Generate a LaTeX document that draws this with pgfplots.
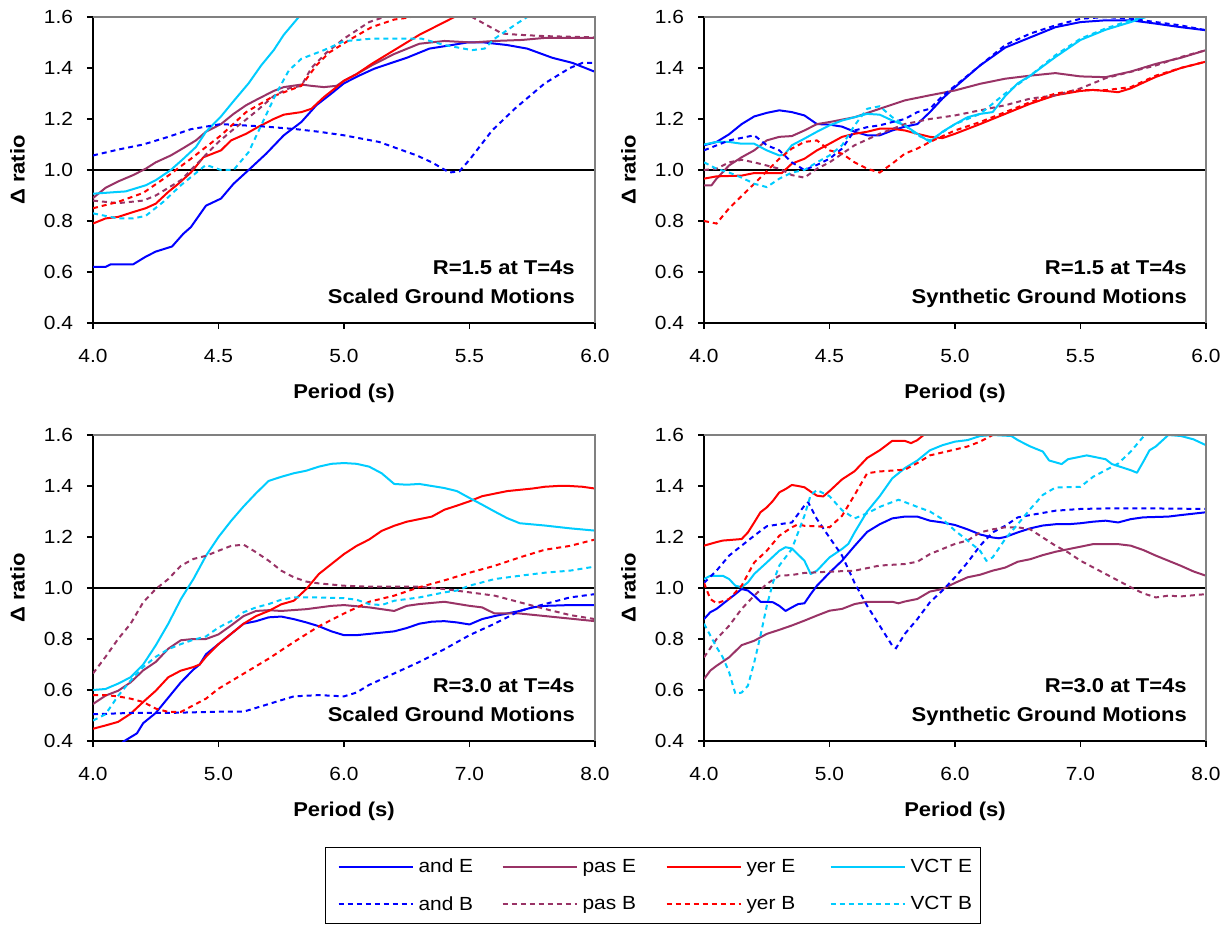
\documentclass[border=0pt]{standalone}
\usepackage{fontspec}
\setmainfont[FakeStretch=1.1]{Liberation Sans}
\usepackage{pgfplots}
\pgfplotsset{compat=1.18}
\definecolor{cAnd}{RGB}{0,0,255}
\definecolor{cPas}{RGB}{153,51,102}
\definecolor{cYer}{RGB}{255,0,0}
\definecolor{cVct}{RGB}{0,204,255}
\tikzset{
  sol/.style={line width=2pt, line join=round},
  dsh/.style={line width=2pt, dash pattern=on 5pt off 4pt},
  ann/.style={anchor=base east, inner sep=0pt, font=\fontsize{20}{24}\selectfont\bfseries},
}
\pgfplotsset{
  panel/.style={
    scale only axis, width=502pt, height=306pt,
    anchor=south west,
    xmin=4, ymin=0.4, ymax=1.6,
    axis x line*=bottom, axis y line*=left,
    axis line style={black, line width=1.3pt},
    tick align=outside, major tick length=6pt,
    tick style={black, line width=1.1pt},
    ytick={0.4,0.6,0.8,1.0,1.2,1.4,1.6},
    /pgf/number format/assume math mode=true,
    /pgf/number format/fixed, /pgf/number format/fixed zerofill, /pgf/number format/precision=1,
    ticklabel style={font=\fontsize{19}{23}\selectfont},
    yticklabel style={xshift=-10.5pt},
    xticklabel style={yshift=-17pt},
    every axis y label/.style={at={(axis description cs:0,0.5)}, xshift=-75.5pt, rotate=90, anchor=center, font=\fontsize{20}{24}\selectfont\bfseries},
    every axis x label/.style={at={(axis description cs:0.5,0)}, anchor=center, yshift=-70pt, font=\fontsize{20}{24}\selectfont\bfseries},
    ylabel={Δ ratio}, xlabel={Period (s)},
    after end axis/.code={\draw[gray, line width=1.1pt] (rel axis cs:0,1) -- (rel axis cs:1,1) -- (rel axis cs:1,0);},
  },
}
\begin{document}
\begin{tikzpicture}
\useasboundingbox (0pt,0pt) rectangle (1231pt,926pt);
% ---------------- top left
\begin{axis}[panel, at={(93pt,603pt)}, xmax=6, xtick={4,4.5,5,5.5,6}]
\addplot[black, line width=1.5pt, forget plot] coordinates {(4,1) (6,1)};
\addplot[sol, cAnd] coordinates {(4.00,0.62) (4.05,0.62) (4.07,0.63) (4.16,0.63) (4.21,0.66) (4.25,0.68) (4.315,0.70) (4.36,0.75) (4.39,0.776) (4.45,0.86) (4.51,0.888) (4.56,0.946) (4.62,1.0) (4.69,1.064) (4.76,1.136) (4.83,1.188) (4.89,1.254) (4.95,1.30) (5.00,1.34) (5.06,1.37) (5.12,1.397) (5.18,1.417) (5.25,1.44) (5.34,1.476) (5.43,1.49) (5.49,1.50) (5.56,1.50) (5.65,1.49) (5.73,1.476) (5.83,1.44) (5.91,1.42) (6.00,1.385)};
\addplot[sol, cPas] coordinates {(4.0,0.89) (4.05,0.93) (4.10,0.955) (4.16,0.98) (4.21,1.005) (4.25,1.03) (4.31,1.057) (4.36,1.086) (4.41,1.116) (4.45,1.15) (4.51,1.18) (4.56,1.22) (4.61,1.254) (4.66,1.28) (4.72,1.31) (4.76,1.325) (4.83,1.335) (4.87,1.33) (4.92,1.325) (4.97,1.33) (5.0,1.35) (5.05,1.376) (5.11,1.41) (5.20,1.455) (5.30,1.495) (5.40,1.506) (5.51,1.50) (5.60,1.506) (5.71,1.51) (5.80,1.518) (6.0,1.518)};
\addplot[sol, cYer] coordinates {(4.0,0.79) (4.05,0.81) (4.10,0.816) (4.16,0.835) (4.21,0.85) (4.25,0.868) (4.30,0.914) (4.34,0.946) (4.39,0.99) (4.44,1.05) (4.51,1.077) (4.55,1.116) (4.61,1.142) (4.66,1.17) (4.72,1.20) (4.76,1.217) (4.83,1.227) (4.87,1.24) (4.92,1.286) (4.97,1.325) (5.0,1.35) (5.05,1.376) (5.11,1.416) (5.15,1.44) (5.20,1.47) (5.30,1.53) (5.40,1.58) (5.44,1.60) (5.55,1.65) (6.0,1.75)};
\addplot[sol, cVct] coordinates {(4.0,0.907) (4.1,0.914) (4.13,0.916) (4.21,0.94) (4.25,0.96) (4.31,1.0) (4.36,1.044) (4.41,1.09) (4.45,1.15) (4.51,1.21) (4.56,1.27) (4.62,1.34) (4.67,1.41) (4.72,1.47) (4.76,1.53) (4.82,1.60) (4.9,1.72)};
\addplot[dsh, cAnd] coordinates {(4.0,1.057) (4.1,1.08) (4.2,1.10) (4.3,1.13) (4.39,1.16) (4.51,1.18) (4.69,1.17) (4.81,1.16) (4.90,1.15) (5.0,1.136) (5.14,1.11) (5.29,1.057) (5.35,1.03) (5.42,0.99) (5.46,0.995) (5.5,1.04) (5.59,1.155) (5.68,1.24) (5.80,1.34) (5.90,1.40) (5.95,1.42) (6.0,1.42)};
\addplot[dsh, cPas] coordinates {(4.0,0.88) (4.1,0.87) (4.2,0.88) (4.25,0.90) (4.3,0.93) (4.35,0.96) (4.4,1.01) (4.45,1.06) (4.5,1.11) (4.56,1.16) (4.6,1.19) (4.65,1.23) (4.72,1.29) (4.78,1.32) (4.83,1.33) (4.87,1.40) (4.93,1.46) (5.0,1.515) (5.1,1.58) (5.16,1.60) (5.3,1.65) (5.45,1.62) (5.51,1.60) (5.63,1.535) (5.7,1.53) (5.8,1.525) (6.0,1.52)};
\addplot[dsh, cYer] coordinates {(4.0,0.85) (4.1,0.875) (4.2,0.91) (4.31,0.985) (4.39,1.044) (4.51,1.136) (4.61,1.227) (4.72,1.29) (4.83,1.33) (4.89,1.41) (4.94,1.46) (5.03,1.515) (5.11,1.56) (5.2,1.59) (5.26,1.598) (5.35,1.63) (6.0,1.7)};
\addplot[dsh, cVct] coordinates {(4.0,0.83) (4.10,0.81) (4.16,0.81) (4.21,0.82) (4.28,0.875) (4.35,0.94) (4.45,1.02) (4.51,1.0) (4.56,1.0) (4.62,1.07) (4.67,1.175) (4.73,1.30) (4.78,1.39) (4.83,1.436) (4.92,1.47) (5.0,1.505) (5.11,1.515) (5.20,1.515) (5.31,1.515) (5.40,1.49) (5.51,1.47) (5.56,1.476) (5.60,1.515) (5.69,1.575) (5.73,1.60) (5.8,1.66)};
\node[ann] at (rel axis cs:0.960,0.160) {R=1.5 at T=4s};
\node[ann] at (rel axis cs:0.960,0.065) {Scaled Ground Motions};
\end{axis}
% ---------------- top right
\begin{axis}[panel, at={(704pt,603pt)}, xmax=6, xtick={4,4.5,5,5.5,6}]
\addplot[black, line width=1.5pt, forget plot] coordinates {(4,1) (6,1)};
\addplot[sol, cAnd] coordinates {(4.0,1.097) (4.05,1.11) (4.1,1.14) (4.15,1.18) (4.2,1.21) (4.25,1.224) (4.3,1.234) (4.35,1.227) (4.4,1.214) (4.45,1.18) (4.5,1.178) (4.55,1.17) (4.6,1.15) (4.65,1.136) (4.7,1.136) (4.75,1.155) (4.8,1.17) (4.85,1.18) (4.9,1.227) (4.95,1.28) (5.0,1.325) (5.1,1.41) (5.2,1.48) (5.3,1.52) (5.4,1.56) (5.5,1.58) (5.6,1.587) (5.7,1.587) (5.8,1.574) (5.9,1.56) (6.0,1.548)};
\addplot[sol, cPas] coordinates {(4.0,0.94) (4.03,0.94) (4.05,0.966) (4.1,1.018) (4.15,1.05) (4.2,1.077) (4.25,1.116) (4.3,1.13) (4.35,1.133) (4.4,1.155) (4.45,1.18) (4.5,1.188) (4.6,1.207) (4.7,1.24) (4.8,1.273) (4.9,1.293) (5.0,1.312) (5.1,1.338) (5.2,1.358) (5.3,1.37) (5.4,1.38) (5.5,1.367) (5.6,1.364) (5.7,1.386) (5.8,1.416) (5.9,1.44) (6.0,1.47)};
\addplot[sol, cYer] coordinates {(4.0,0.966) (4.05,0.975) (4.15,0.978) (4.2,0.988) (4.31,0.988) (4.35,1.025) (4.4,1.044) (4.45,1.077) (4.5,1.103) (4.55,1.13) (4.6,1.142) (4.65,1.15) (4.7,1.162) (4.75,1.162) (4.8,1.155) (4.85,1.142) (4.9,1.13) (4.95,1.125) (5.0,1.142) (5.1,1.18) (5.2,1.22) (5.3,1.26) (5.4,1.293) (5.5,1.31) (5.55,1.314) (5.6,1.31) (5.65,1.305) (5.7,1.32) (5.8,1.365) (5.9,1.40) (6.0,1.425)};
\addplot[sol, cVct] coordinates {(4.0,1.10) (4.05,1.11) (4.1,1.11) (4.15,1.103) (4.2,1.103) (4.25,1.077) (4.3,1.057) (4.32,1.06) (4.35,1.097) (4.4,1.123) (4.45,1.15) (4.5,1.175) (4.55,1.194) (4.6,1.207) (4.65,1.22) (4.7,1.217) (4.75,1.194) (4.8,1.175) (4.85,1.142) (4.9,1.11) (4.95,1.15) (5.0,1.18) (5.05,1.207) (5.1,1.22) (5.15,1.227) (5.2,1.29) (5.25,1.34) (5.3,1.37) (5.4,1.443) (5.5,1.51) (5.6,1.55) (5.7,1.58) (5.76,1.60) (5.85,1.64)};
\addplot[dsh, cAnd] coordinates {(4.0,1.077) (4.1,1.116) (4.2,1.136) (4.25,1.097) (4.3,1.077) (4.35,1.03) (4.4,1.0) (4.45,1.02) (4.5,1.044) (4.55,1.084) (4.6,1.155) (4.65,1.168) (4.7,1.175) (4.75,1.188) (4.8,1.20) (4.85,1.227) (4.9,1.24) (4.95,1.29) (5.0,1.33) (5.1,1.41) (5.2,1.49) (5.3,1.535) (5.4,1.567) (5.5,1.593) (5.6,1.60) (5.7,1.593) (5.8,1.58) (5.9,1.567) (6.0,1.548)};
\addplot[dsh, cPas] coordinates {(4.0,1.0) (4.05,1.005) (4.1,1.03) (4.15,1.04) (4.2,1.03) (4.3,1.005) (4.35,0.98) (4.4,0.97) (4.45,1.005) (4.5,1.03) (4.6,1.097) (4.7,1.142) (4.8,1.18) (4.9,1.20) (5.0,1.214) (5.1,1.234) (5.2,1.254) (5.3,1.28) (5.4,1.293) (5.5,1.32) (5.6,1.36) (5.7,1.385) (5.8,1.41) (5.9,1.443) (6.0,1.47)};
\addplot[dsh, cYer] coordinates {(4.0,0.80) (4.05,0.79) (4.1,0.85) (4.2,0.946) (4.3,1.044) (4.35,1.084) (4.4,1.11) (4.45,1.116) (4.5,1.077) (4.55,1.064) (4.6,1.03) (4.65,1.005) (4.7,0.99) (4.75,1.025) (4.8,1.064) (4.85,1.084) (4.9,1.11) (5.0,1.155) (5.1,1.188) (5.2,1.227) (5.3,1.266) (5.4,1.30) (5.5,1.313) (5.6,1.313) (5.7,1.325) (5.8,1.37) (5.9,1.40) (6.0,1.425)};
\addplot[dsh, cVct] coordinates {(4.0,1.03) (4.05,1.005) (4.1,0.99) (4.15,0.97) (4.2,0.946) (4.25,0.933) (4.3,0.966) (4.35,0.99) (4.4,1.0) (4.45,1.03) (4.5,1.057) (4.55,1.097) (4.6,1.175) (4.65,1.24) (4.7,1.25) (4.75,1.207) (4.8,1.175) (4.85,1.136) (4.9,1.116) (5.0,1.18) (5.1,1.22) (5.2,1.30) (5.3,1.37) (5.4,1.45) (5.5,1.515) (5.6,1.555) (5.7,1.587) (5.76,1.60) (5.85,1.64)};
\node[ann] at (rel axis cs:0.962,0.160) {R=1.5 at T=4s};
\node[ann] at (rel axis cs:0.962,0.065) {Synthetic Ground Motions};
\end{axis}
% ---------------- bottom left
\begin{axis}[panel, at={(93pt,185pt)}, xmax=8, xtick={4,5,6,7,8},
  legend columns=4,
  legend image code/.code={\draw[#1] (0pt,0pt) -- (74pt,0pt);},
  legend cell align=left,
  legend style={at={(0.4622,-0.3464)}, anchor=north west, draw=black, line width=1pt,
    font=\fontsize{19}{23}\selectfont, inner xsep=12pt, inner ysep=9.5pt, row sep=18pt,
    nodes={inner sep=2pt},
    /tikz/every odd column/.append style={column sep=3pt},
    /tikz/every even column/.append style={column sep=11pt}}]
\addplot[black, line width=1.5pt, forget plot] coordinates {(4,1) (8,1)};
\addplot[sol, cAnd] coordinates {(4.15,0.36) (4.25,0.40) (4.35,0.43) (4.4,0.47) (4.5,0.51) (4.6,0.57) (4.7,0.63) (4.8,0.68) (4.85,0.70) (4.9,0.74) (5.0,0.78) (5.1,0.82) (5.2,0.86) (5.3,0.87) (5.4,0.885) (5.5,0.888) (5.6,0.878) (5.7,0.865) (5.8,0.85) (5.9,0.83) (6.0,0.815) (6.1,0.815) (6.2,0.82) (6.3,0.825) (6.4,0.83) (6.5,0.843) (6.6,0.86) (6.7,0.868) (6.8,0.87) (6.9,0.865) (7.0,0.857) (7.1,0.878) (7.2,0.89) (7.3,0.90) (7.4,0.91) (7.5,0.924) (7.6,0.93) (7.8,0.933) (8.0,0.933)};
\addlegendentry{\makebox[70pt][l]{and E}}
\addplot[sol, cPas] coordinates {(4.0,0.545) (4.1,0.578) (4.2,0.597) (4.3,0.63) (4.4,0.677) (4.5,0.71) (4.6,0.762) (4.7,0.795) (4.8,0.80) (4.9,0.80) (5.0,0.818) (5.1,0.853) (5.2,0.89) (5.3,0.91) (5.4,0.913) (5.5,0.91) (5.7,0.917) (5.9,0.93) (6.0,0.933) (6.2,0.924) (6.4,0.91) (6.5,0.93) (6.6,0.937) (6.8,0.946) (7.0,0.93) (7.1,0.924) (7.2,0.90) (7.4,0.90) (7.6,0.89) (7.8,0.88) (8.0,0.87)};
\addlegendentry{\makebox[70pt][l]{pas E}}
\addplot[sol, cYer] coordinates {(4.0,0.448) (4.1,0.461) (4.2,0.475) (4.3,0.507) (4.4,0.553) (4.5,0.597) (4.6,0.65) (4.7,0.676) (4.8,0.69) (4.85,0.70) (4.9,0.73) (5.0,0.78) (5.1,0.82) (5.2,0.86) (5.3,0.89) (5.4,0.91) (5.5,0.936) (5.6,0.95) (5.7,0.996) (5.8,1.055) (5.9,1.094) (6.0,1.133) (6.1,1.165) (6.2,1.19) (6.3,1.224) (6.4,1.244) (6.5,1.26) (6.6,1.27) (6.7,1.28) (6.8,1.307) (6.9,1.323) (7.0,1.34) (7.1,1.36) (7.2,1.37) (7.3,1.38) (7.4,1.385) (7.5,1.39) (7.6,1.397) (7.7,1.40) (7.8,1.40) (7.9,1.397) (8.0,1.39)};
\addlegendentry{\makebox[70pt][l]{yer E}}
\addplot[sol, cVct] coordinates {(4.0,0.60) (4.1,0.604) (4.2,0.625) (4.3,0.65) (4.4,0.70) (4.5,0.775) (4.6,0.86) (4.7,0.956) (4.75,0.996) (4.8,1.035) (4.9,1.126) (5.0,1.20) (5.1,1.263) (5.2,1.32) (5.3,1.372) (5.4,1.42) (5.5,1.436) (5.6,1.45) (5.7,1.46) (5.8,1.476) (5.9,1.487) (6.0,1.49) (6.1,1.487) (6.2,1.476) (6.3,1.45) (6.4,1.408) (6.5,1.405) (6.6,1.408) (6.8,1.392) (6.9,1.38) (7.0,1.353) (7.1,1.327) (7.2,1.30) (7.3,1.274) (7.4,1.254) (7.6,1.245) (7.8,1.234) (8.0,1.225)};
\addlegendentry{\makebox[56pt][l]{VCT E}}
\addplot[dsh, cAnd] coordinates {(4.0,0.505) (4.3,0.51) (4.6,0.51) (5.0,0.515) (5.2,0.515) (5.3,0.53) (5.5,0.56) (5.6,0.575) (5.8,0.58) (6.0,0.575) (6.1,0.59) (6.2,0.62) (6.4,0.665) (6.6,0.71) (6.8,0.76) (7.0,0.815) (7.2,0.86) (7.4,0.91) (7.6,0.937) (7.8,0.963) (8.0,0.976)};
\addlegendentry{\makebox[70pt][l]{and B}}
\addplot[dsh, cPas] coordinates {(4.0,0.665) (4.1,0.73) (4.2,0.80) (4.3,0.86) (4.4,0.944) (4.5,0.996) (4.6,1.035) (4.7,1.087) (4.8,1.114) (4.9,1.126) (5.0,1.146) (5.1,1.165) (5.2,1.17) (5.3,1.14) (5.4,1.107) (5.5,1.068) (5.6,1.042) (5.7,1.025) (5.8,1.018) (6.0,1.009) (6.2,1.005) (6.6,1.005) (6.8,0.996) (7.0,0.983) (7.2,0.97) (7.4,0.944) (7.6,0.918) (7.8,0.894) (8.0,0.878)};
\addlegendentry{\makebox[70pt][l]{pas B}}
\addplot[dsh, cYer] coordinates {(4.0,0.58) (4.1,0.58) (4.2,0.575) (4.3,0.566) (4.4,0.553) (4.5,0.527) (4.6,0.514) (4.7,0.514) (4.8,0.54) (4.9,0.566) (5.0,0.605) (5.2,0.664) (5.4,0.723) (5.6,0.788) (5.8,0.85) (6.0,0.90) (6.2,0.946) (6.4,0.97) (6.6,1.003) (6.8,1.03) (7.0,1.06) (7.2,1.087) (7.4,1.12) (7.6,1.15) (7.8,1.165) (8.0,1.19)};
\addlegendentry{\makebox[70pt][l]{yer B}}
\addplot[dsh, cVct] coordinates {(4.0,0.48) (4.1,0.505) (4.2,0.577) (4.3,0.637) (4.4,0.69) (4.5,0.73) (4.6,0.76) (4.7,0.78) (4.8,0.797) (4.9,0.81) (5.0,0.845) (5.1,0.87) (5.2,0.905) (5.3,0.924) (5.4,0.937) (5.5,0.954) (5.6,0.963) (5.8,0.963) (6.0,0.96) (6.1,0.954) (6.2,0.937) (6.3,0.933) (6.4,0.95) (6.6,0.963) (6.8,0.983) (6.9,0.99) (7.0,1.009) (7.2,1.035) (7.4,1.048) (7.6,1.06) (7.8,1.068) (8.0,1.084)};
\addlegendentry{\makebox[56pt][l]{VCT B}}
\node[ann] at (rel axis cs:0.960,0.158) {R=3.0 at T=4s};
\node[ann] at (rel axis cs:0.960,0.064) {Scaled Ground Motions};
\end{axis}
% ---------------- bottom right
\begin{axis}[panel, at={(704pt,185pt)}, xmax=8, xtick={4,5,6,7,8}]
\addplot[black, line width=1.5pt, forget plot] coordinates {(4,1) (8,1)};
\addplot[sol, cAnd] coordinates {(4.0,0.878) (4.05,0.905) (4.1,0.918) (4.2,0.957) (4.25,0.976) (4.3,0.996) (4.35,0.99) (4.4,0.97) (4.45,0.946) (4.5,0.946) (4.55,0.944) (4.6,0.93) (4.65,0.91) (4.7,0.924) (4.75,0.937) (4.8,0.94) (4.85,0.976) (4.9,1.009) (5.0,1.06) (5.1,1.107) (5.2,1.165) (5.3,1.22) (5.4,1.25) (5.5,1.273) (5.6,1.28) (5.7,1.28) (5.8,1.264) (5.9,1.257) (6.0,1.247) (6.1,1.23) (6.2,1.21) (6.3,1.198) (6.35,1.195) (6.4,1.20) (6.5,1.218) (6.6,1.234) (6.7,1.245) (6.8,1.25) (6.9,1.25) (7.0,1.254) (7.1,1.26) (7.2,1.264) (7.3,1.257) (7.4,1.27) (7.5,1.277) (7.7,1.28) (7.8,1.286) (8.0,1.297)};
\addplot[sol, cPas] coordinates {(4.0,0.643) (4.05,0.676) (4.1,0.695) (4.2,0.728) (4.3,0.776) (4.4,0.793) (4.5,0.82) (4.6,0.836) (4.7,0.853) (4.8,0.872) (4.9,0.892) (5.0,0.911) (5.1,0.918) (5.2,0.937) (5.3,0.946) (5.4,0.946) (5.5,0.946) (5.55,0.94) (5.6,0.947) (5.7,0.957) (5.8,0.986) (5.9,0.996) (6.0,1.02) (6.1,1.042) (6.2,1.052) (6.3,1.068) (6.4,1.08) (6.5,1.103) (6.6,1.113) (6.7,1.129) (6.8,1.142) (6.9,1.152) (7.0,1.162) (7.1,1.172) (7.2,1.172) (7.3,1.172) (7.4,1.166) (7.5,1.149) (7.6,1.127) (7.7,1.107) (7.8,1.087) (7.9,1.065) (8.0,1.048)};
\addplot[sol, cYer] coordinates {(4.0,1.166) (4.05,1.173) (4.1,1.18) (4.15,1.186) (4.2,1.188) (4.3,1.192) (4.35,1.218) (4.4,1.257) (4.45,1.297) (4.5,1.316) (4.55,1.342) (4.6,1.375) (4.65,1.388) (4.7,1.404) (4.75,1.40) (4.8,1.395) (4.85,1.378) (4.9,1.362) (4.95,1.359) (5.0,1.38) (5.1,1.426) (5.2,1.458) (5.3,1.51) (5.4,1.54) (5.5,1.577) (5.6,1.577) (5.65,1.568) (5.7,1.58) (5.75,1.60) (5.9,1.66)};
\addplot[sol, cVct] coordinates {(4.0,1.035) (4.05,1.048) (4.1,1.048) (4.15,1.048) (4.2,1.035) (4.25,1.009) (4.3,1.003) (4.35,1.022) (4.4,1.055) (4.5,1.10) (4.6,1.146) (4.65,1.16) (4.7,1.155) (4.8,1.107) (4.85,1.055) (4.9,1.068) (5.0,1.12) (5.1,1.153) (5.15,1.173) (5.2,1.218) (5.3,1.30) (5.4,1.36) (5.5,1.43) (5.6,1.47) (5.7,1.50) (5.8,1.54) (5.9,1.56) (6.0,1.574) (6.1,1.58) (6.2,1.596) (6.3,1.60) (6.45,1.596) (6.5,1.58) (6.6,1.555) (6.7,1.535) (6.75,1.50) (6.85,1.486) (6.9,1.505) (7.0,1.515) (7.05,1.52) (7.1,1.515) (7.2,1.505) (7.25,1.486) (7.3,1.478) (7.4,1.462) (7.45,1.452) (7.5,1.495) (7.55,1.54) (7.6,1.555) (7.7,1.60) (7.8,1.596) (7.9,1.583) (8.0,1.56)};
\addplot[dsh, cAnd] coordinates {(4.0,1.02) (4.1,1.068) (4.2,1.127) (4.3,1.166) (4.4,1.205) (4.5,1.242) (4.6,1.25) (4.7,1.257) (4.8,1.323) (4.83,1.336) (4.9,1.27) (5.0,1.198) (5.1,1.127) (5.2,1.02) (5.3,0.93) (5.4,0.852) (5.5,0.774) (5.53,0.764) (5.6,0.82) (5.7,0.878) (5.8,0.944) (5.9,0.99) (6.0,1.042) (6.1,1.10) (6.2,1.166) (6.3,1.218) (6.4,1.244) (6.5,1.277) (6.6,1.286) (6.8,1.303) (7.0,1.31) (7.2,1.312) (7.4,1.312) (7.6,1.312) (8.0,1.31)};
\addplot[dsh, cPas] coordinates {(4.0,0.728) (4.1,0.80) (4.2,0.852) (4.3,0.918) (4.4,0.97) (4.5,1.016) (4.6,1.048) (4.7,1.051) (4.8,1.059) (5.0,1.064) (5.2,1.068) (5.4,1.088) (5.6,1.094) (5.7,1.103) (5.8,1.133) (6.0,1.173) (6.1,1.186) (6.2,1.218) (6.3,1.23) (6.4,1.238) (6.5,1.238) (6.6,1.23) (6.7,1.198) (6.8,1.166) (6.9,1.14) (7.0,1.107) (7.1,1.081) (7.2,1.055) (7.3,1.029) (7.4,1.003) (7.5,0.979) (7.6,0.963) (7.7,0.97) (7.8,0.967) (8.0,0.976)};
\addplot[dsh, cYer] coordinates {(4.0,1.02) (4.05,0.957) (4.1,0.94) (4.2,0.957) (4.3,1.009) (4.4,1.10) (4.5,1.146) (4.6,1.205) (4.7,1.238) (4.75,1.25) (4.8,1.244) (4.9,1.242) (5.0,1.238) (5.1,1.283) (5.2,1.365) (5.3,1.45) (5.4,1.457) (5.6,1.464) (5.7,1.49) (5.8,1.52) (6.0,1.543) (6.1,1.555) (6.2,1.574) (6.3,1.60) (6.45,1.66)};
\addplot[dsh, cVct] coordinates {(4.0,0.86) (4.1,0.768) (4.15,0.728) (4.2,0.67) (4.25,0.585) (4.3,0.59) (4.35,0.617) (4.4,0.708) (4.45,0.813) (4.5,0.93) (4.55,1.022) (4.6,1.088) (4.7,1.153) (4.8,1.283) (4.85,1.365) (4.9,1.384) (5.0,1.36) (5.1,1.305) (5.2,1.273) (5.3,1.293) (5.4,1.318) (5.5,1.337) (5.55,1.346) (5.6,1.337) (5.7,1.318) (5.8,1.30) (5.9,1.27) (6.0,1.225) (6.1,1.186) (6.2,1.146) (6.25,1.107) (6.3,1.12) (6.4,1.192) (6.5,1.25) (6.6,1.31) (6.7,1.365) (6.8,1.394) (7.0,1.397) (7.1,1.436) (7.2,1.462) (7.3,1.488) (7.4,1.535) (7.5,1.593) (7.53,1.60) (7.6,1.66)};
\node[ann] at (rel axis cs:0.962,0.158) {R=3.0 at T=4s};
\node[ann] at (rel axis cs:0.962,0.064) {Synthetic Ground Motions};
\end{axis}
\end{tikzpicture}
\end{document}
